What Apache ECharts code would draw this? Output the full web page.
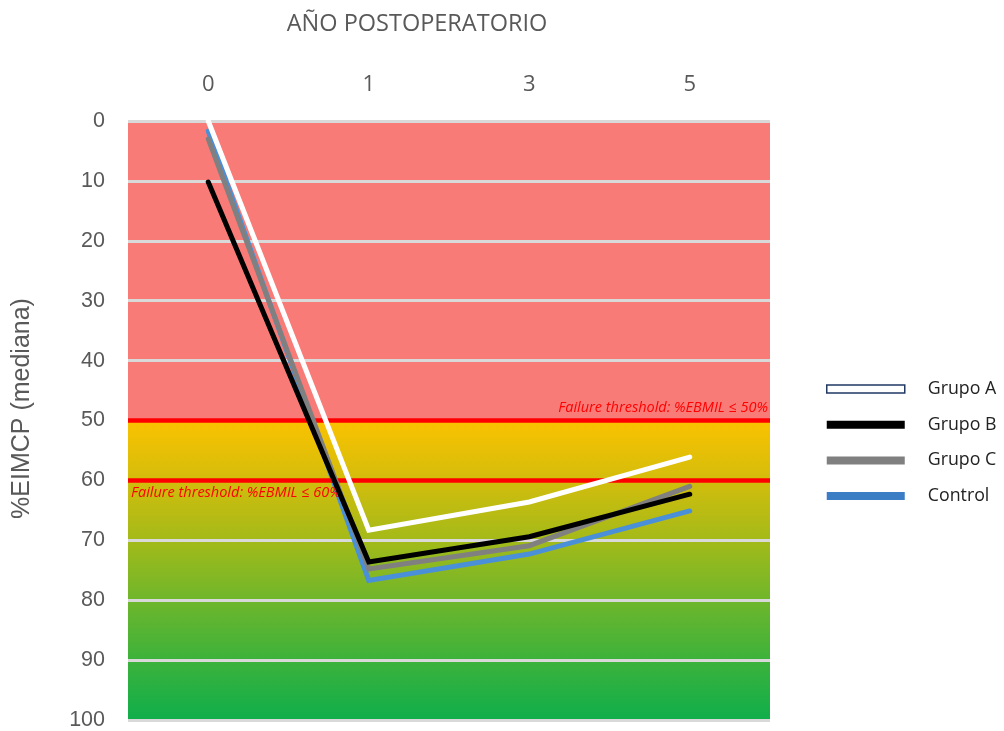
<!DOCTYPE html>
<html>
<head>
<meta charset="utf-8">
<script src="https://cdn.jsdelivr.net/npm/echarts@6/dist/echarts.min.js"></script>
<style>
  html, body { margin: 0; padding: 0; background: #ffffff; }
  #chart { width: 1004px; height: 731px; }
</style>
</head>
<body>
<div id="chart"></div>
<script>
// Postoperative years (category axis, drawn on top)
var years = ['0', '1', '3', '5'];

// Median %EIMCP per group
var grupoA = [0, 68.3, 63.6, 56.1];
var grupoB = [10.2, 73.6, 69.4, 62.3];
var grupoC = [3, 74.8, 70.9, 61];
var control = [1.7, 76.7, 72.3, 65.1];

// Failure thresholds
var thresholds = [50, 60];

var soft = '"Open Sans", "Liberation Sans", sans-serif';
var sans = '"Liberation Sans", Arial, sans-serif';
var grey = '#595959';

function lineSeries(name, data, color, z) {
  return {
    name: name,
    type: 'line',
    data: data,
    z: z,
    symbol: 'none',
    lineStyle: { color: color, width: 5, cap: 'round', join: 'miter' },
    itemStyle: { color: color },
    emphasis: { disabled: true }
  };
}

var chart = echarts.init(document.getElementById('chart'));
chart.setOption({
  animation: false,
  backgroundColor: '#ffffff',
  title: {
    text: 'AÑO POSTOPERATORIO',
    left: 412,
    textAlign: 'center',
    top: 7,
    textStyle: { fontFamily: soft, fontWeight: 'normal', fontSize: 23.5, color: grey }
  },
  grid: { left: 128, right: 234, top: 121, bottom: 9 },
  legend: {
    orient: 'vertical',
    left: 826,
    top: 378,
    padding: 0,
    itemWidth: 78,
    itemHeight: 8,
    itemGap: 13.7,
    icon: 'rect',
    selectedMode: false,
    textStyle: { fontFamily: soft, fontSize: 17.8, color: '#222222', padding: [0, 0, 0, 18], lineHeight: 22 },
    data: [
      { name: 'Grupo A', itemStyle: { color: '#ffffff', borderColor: '#203864', borderWidth: 1.5 } },
      { name: 'Grupo B', itemStyle: { color: '#000000' } },
      { name: 'Grupo C', itemStyle: { color: '#808080' } },
      { name: 'Control', itemStyle: { color: '#3b7dc4' } }
    ]
  },
  xAxis: {
    type: 'category',
    position: 'top',
    data: years,
    boundaryGap: true,
    axisLine: { show: false },
    axisTick: { show: false },
    splitLine: { show: false },
    axisLabel: { fontFamily: soft, fontSize: 22, color: grey, margin: 25 }
  },
  yAxis: {
    type: 'value',
    inverse: true,
    min: 0,
    max: 100,
    interval: 10,
    z: 2,
    name: '%EIMCP (mediana)',
    nameLocation: 'middle',
    nameGap: 93,
    nameTextStyle: { fontFamily: sans, fontSize: 25, color: grey, padding: [0, 0, 0, 24] },
    axisLine: { show: false },
    axisTick: { show: false },
    axisLabel: { fontFamily: sans, fontSize: 21.5, color: grey, margin: 23 },
    splitLine: { show: true, lineStyle: { color: '#d9d9d9', width: 3 } }
  },
  series: [
    {
      // coloured outcome bands behind everything
      name: 'bands',
      type: 'line',
      data: [null, null, null, null],
      z: 1,
      silent: true,
      markArea: {
        silent: true,
        data: [
          [{ yAxis: 0, itemStyle: { color: '#f97b77' } }, { yAxis: thresholds[0] }],
          [{ yAxis: thresholds[0], itemStyle: {
              color: new echarts.graphic.LinearGradient(0, 0, 0, 1, [
                { offset: 0, color: '#fbc200' },
                { offset: 0.2, color: '#d3bd0c' },
                { offset: 0.4, color: '#a3ba19' },
                { offset: 0.6, color: '#6fb62b' },
                { offset: 0.8, color: '#3cb23b' },
                { offset: 1, color: '#10ae4b' }
              ])
            } }, { yAxis: 100 }]
        ]
      }
    },
    {
      // failure threshold lines
      name: 'thresholds',
      type: 'line',
      data: [null, null, null, null],
      z: 3,
      silent: true,
      markLine: {
        silent: true,
        symbol: 'none',
        lineStyle: { color: '#ff0000', width: 4.5, type: 'solid' },
        label: {
          color: '#ff0000',
          fontFamily: soft,
          fontStyle: 'italic',
          fontSize: 14.5
        },
        data: [
          { yAxis: thresholds[0], label: { position: 'insideEndTop', formatter: 'Failure threshold: %EBMIL ≤ 50%', distance: [2, 5] } },
          { yAxis: thresholds[1], label: { position: 'insideStartBottom', formatter: 'Failure threshold: %EBMIL ≤ 60%', distance: [3, 5] } }
        ]
      }
    },
    lineSeries('Control', control, '#4a90d9', 4),
    lineSeries('Grupo C', grupoC, '#808080', 5),
    lineSeries('Grupo B', grupoB, '#000000', 6),
    lineSeries('Grupo A', grupoA, '#ffffff', 7)
  ]
});
</script>
</body>
</html>
